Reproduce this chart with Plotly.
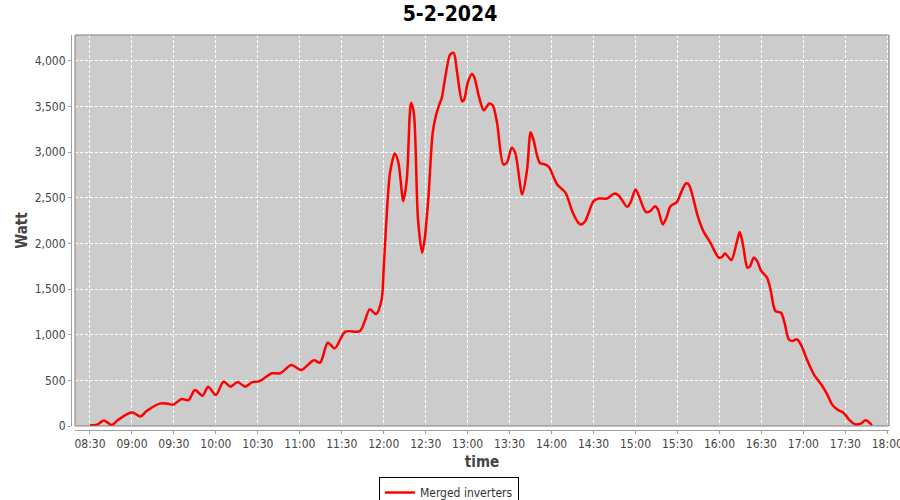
import plotly.graph_objects as go

DATE = "2024-02-05"
times = ["08:30:00","08:35:00","08:40:00","08:45:30","08:50:00","09:00:00","09:06:00","09:10:30",
         "09:20:00","09:25:00","09:29:30","09:35:30","09:40:30","09:45:00","09:50:30","09:54:30",
         "10:00:00","10:05:30","10:10:30","10:15:30","10:21:00","10:26:00","10:31:00","10:40:00",
         "10:46:00","10:54:00","11:01:00","11:10:00","11:14:30","11:20:00","11:25:00","11:32:30",
         "11:43:00","11:50:00","11:54:30","11:58:30","12:00:00","12:04:30","12:08:00","12:10:30",
         "12:14:00","12:16:30","12:19:30","12:21:30","12:24:30","12:27:30","12:29:30","12:32:00",
         "12:35:00","12:37:30","12:40:00","12:41:30","12:44:30","12:47:30","12:50:00","12:52:30",
         "12:56:00","12:57:30","13:00:00","13:03:00","13:04:30","13:08:00","13:11:30","13:15:30",
         "13:18:00","13:21:00","13:25:30","13:28:00","13:31:30","13:34:00","13:39:00","13:42:30",
         "13:45:00","13:47:00","13:51:30","13:55:30","13:58:00","14:04:00","14:10:00","14:15:00",
         "14:19:30","14:21:00","14:24:00","14:30:00","14:33:30","14:39:30","14:45:00","14:48:00",
         "14:54:00","14:56:30","15:00:00","15:02:00","15:07:30","15:10:30","15:14:00","15:16:00",
         "15:19:30","15:22:30","15:25:00","15:29:30","15:33:00","15:36:00","15:38:00","15:40:30",
         "15:44:30","15:48:30","15:53:30","15:59:30","16:02:00","16:04:00","16:08:30","16:12:00",
         "16:14:30","16:17:00","16:20:00","16:22:00","16:24:30","16:27:00","16:29:30","16:34:00",
         "16:36:30","16:40:00","16:44:00","16:46:30","16:49:30","16:52:00","16:55:30","16:58:30",
         "17:02:30","17:07:30","17:13:30","17:17:00","17:20:30","17:24:00","17:28:30","17:32:30",
         "17:37:00","17:41:00","17:44:30","17:49:00"]
watts = [8,15,60,10,66,150,103,164,
         245,245,234,295,284,394,332,431,
         339,486,431,481,431,481,489,577,
         577,667,613,719,693,912,850,1033,
         1040,1277,1225,1386,1733,2772,2984,2882,
         2462,2700,3538,3429,2262,1897,2079,2516,
         3210,3410,3531,3593,3866,4067,4085,3866,
         3556,3575,3757,3855,3829,3611,3457,3531,
         3509,3319,2863,2882,3046,2991,2535,2809,
         3217,3137,2882,2863,2838,2645,2553,2340,
         2218,2207,2243,2462,2491,2491,2546,2524,
         2400,2451,2590,2535,2341,2352,2407,2371,
         2207,2298,2407,2451,2571,2655,2645,2535,
         2298,2134,2007,1843,1853,1890,1816,1988,
         2123,1969,1733,1751,1843,1805,1707,1624,
         1496,1258,1240,1131,949,930,949,883,
         730,566,438,347,237,183,147,73,
         18,26,62,10]
series_name = "Merged inverters"
title_text = "5-2-2024"
x_ticks = ["08:30","09:00","09:30","10:00","10:30","11:00","11:30","12:00","12:30","13:00",
           "13:30","14:00","14:30","15:00","15:30","16:00","16:30","17:00","17:30","18:00"]
y_ticks = [0,500,1000,1500,2000,2500,3000,3500,4000]

xs = [f"{DATE} {t}" for t in times]
FONT = "DejaVu Sans Condensed, Tahoma, DejaVu Sans, sans-serif"

fig = go.Figure()
fig.add_trace(go.Scatter(x=xs, y=watts, mode="lines", name=series_name,
                         line=dict(color="#ff0000", width=2.5, shape="spline", smoothing=0.8),
                         showlegend=True))

W, H = 900, 500
ml, mr, mt, mb = 71, 11, 35, 70
pw = W - ml - mr
ph = H - mt - mb
dx = 4 / pw
dy = 4 / ph

fig.update_layout(
    width=W, height=H,
    margin=dict(l=ml, r=mr, t=mt, b=mb, autoexpand=False),
    paper_bgcolor="white", plot_bgcolor="#cccccc",
    font=dict(family=FONT, size=12, color="#444444"),
    title=dict(text=f"<b>{title_text}</b>", x=0.5, xanchor="center", y=0.972, yanchor="middle",
               font=dict(family=FONT, size=21, color="black")),
    xaxis=dict(domain=[dx, 1], anchor="free", position=0, type="date", automargin=False,
               range=[f"{DATE} 08:19:17", f"{DATE} 18:01:13"],
               tickvals=[f"{DATE} {t}" for t in x_ticks], ticktext=x_ticks,
               ticklabeloverflow="allow",
               ticks="outside", ticklen=3, tickcolor="#a0a0a0",
               showline=True, linecolor="#a0a0a0", linewidth=1,
               showgrid=True, gridcolor="white", griddash="3px,2px", gridwidth=1,
               zeroline=False,
               tickfont=dict(family=FONT, size=12, color="#444444"),
               title=dict(text="<b>time</b>", font=dict(family=FONT, size=15, color="#444444"),
                          standoff=6)),
    yaxis=dict(domain=[dy, 1], anchor="free", position=0, automargin=False,
               range=[0, 4281], tickvals=y_ticks, tickformat=",",
               ticks="outside", ticklen=3, tickcolor="#a0a0a0",
               showline=True, linecolor="#a0a0a0", linewidth=1,
               showgrid=True, gridcolor="white", griddash="3px,2px", gridwidth=1,
               zeroline=False,
               tickfont=dict(family=FONT, size=12, color="#444444"),
               title=dict(text="<b>Watt</b>", font=dict(family=FONT, size=15, color="#444444"),
                          standoff=2)),
    legend=dict(orientation="h", x=0.462, xanchor="center", y=-0.119, yanchor="top",
                bordercolor="black", borderwidth=1, bgcolor="white", itemwidth=30,
                font=dict(family=FONT, size=12, color="#333333")),
    shapes=[dict(type="rect", xref="paper", yref="paper", x0=dx, x1=1, y0=dy, y1=1,
                 line=dict(color="#808080", width=1), fillcolor="rgba(0,0,0,0)", layer="above")],
)

fig.write_html("out.html", config={"displayModeBar": False},
               post_script="document.body.style.margin='0';document.body.style.overflow='hidden';")
